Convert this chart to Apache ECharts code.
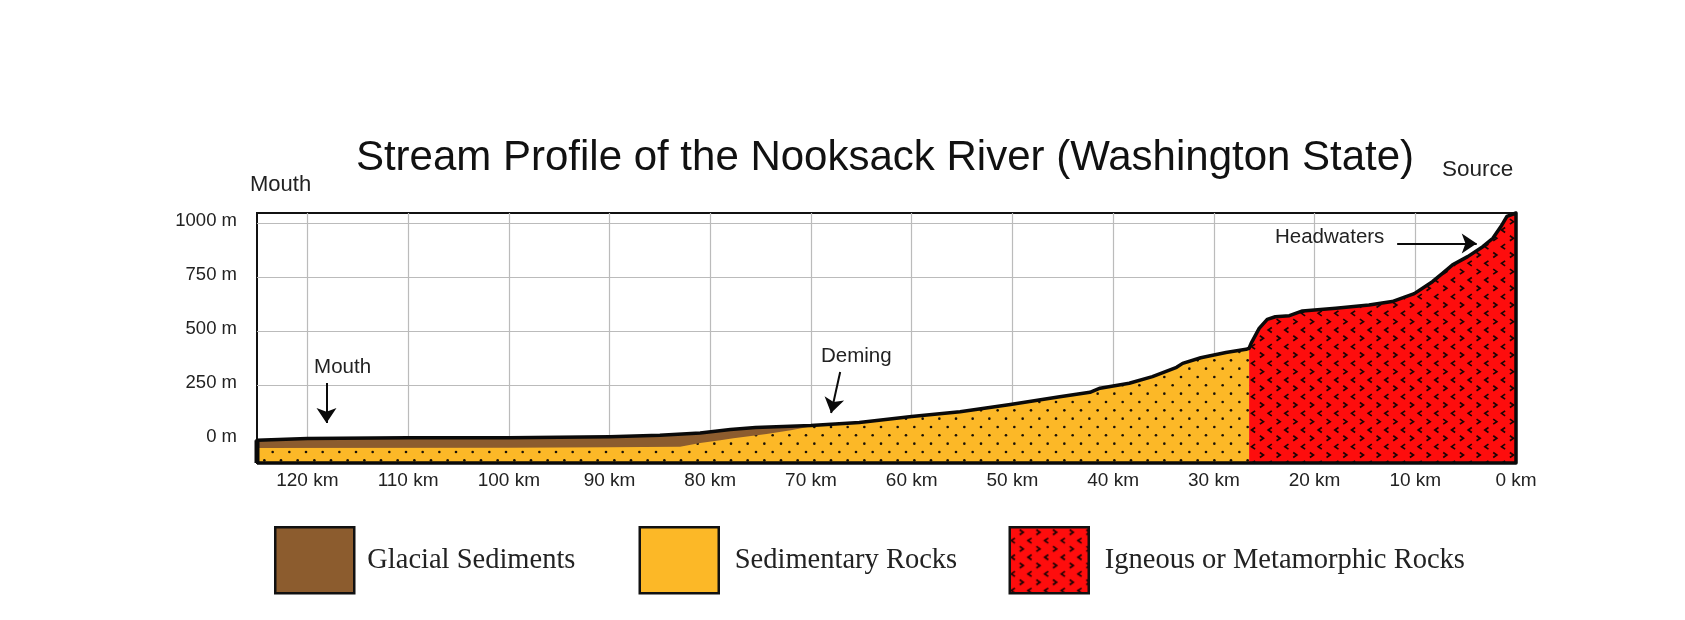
<!DOCTYPE html>
<html>
<head>
<meta charset="utf-8">
<title>Stream Profile of the Nooksack River</title>
<script src="https://cdn.jsdelivr.net/npm/echarts@6/dist/echarts.min.js"></script>
<style>
  html, body { margin: 0; background: #fff; }
  #chart { width: 1685px; height: 620px; }
</style>
</head>
<body>
<div id="chart"></div>
<script>
// river surface: distance from source (km) and elevation (m)
const profileKm = [125, 120, 110, 100, 90, 85, 81, 78, 75.5, 70, 65.2, 60, 55.2, 50.2, 45.3, 42.3, 41.3, 38.4, 36.1, 33.7, 33.1, 31.3, 28.8, 26.8, 26.5, 26.3, 25.5, 24.7, 23.9, 22.5, 21.2, 17.9, 14.6, 12.3, 10.1, 8.3, 7.3, 6.3, 4.8, 3.3, 2.3, 1.5, 0.9, 0];
const profileM = [-6, 2, 6, 6, 10, 17, 28, 44, 53, 62, 76, 104, 126, 160, 196, 216, 235, 258, 289, 332, 350, 376, 400, 415, 420, 443, 512, 554, 566, 571, 593, 605, 620, 636, 673, 728, 767, 806, 844, 890, 929, 983, 1030, 1046];

// bottom of the glacial sediments
const contactKm = [125, 100, 90, 83, 81, 79, 77.7, 74.4, 72, 69.8];
const contactM = [-42, -40, -38, -36, -18, -6, 4, 23, 41, 60];

// sedimentary rocks end here, igneous rocks start
const rockBoundaryKm = 26.5;
const glacialEndKm = 69.8;

const xMin = 0;
const xMax = 125;
const yMin = -111;
const yMax = 1046;
const kmTicks = [0, 10, 20, 30, 40, 50, 60, 70, 80, 90, 100, 110, 120];
const elevationTicks = [0, 250, 500, 750, 1000];

const legendNames = ['Glacial Sediments', 'Sedimentary Rocks', 'Igneous or Metamorphic Rocks'];

const arrowFrom = [[118.1, 259], [67.1, 310], [11.8, 905]];
const arrowTo = [[118.1, 74], [68.0, 120], [3.9, 905]];
const noteNames = ['Mouth', 'Deming', 'Headwaters'];
const notePoints = [[116.5, 333], [65.5, 384], [18.5, 935]];

const BROWN = '#8c5c2e';
const YELLOW = '#fcb827';
const RED = '#fe0d0d';

const pairs = (xs, ys) => xs.map((x, i) => [x, ys[i]]);
const profile = pairs(profileKm, profileM);

function dotTile () {
  const c = document.createElement('canvas');
  c.width = c.height = 50;
  const g = c.getContext('2d');
  g.fillStyle = YELLOW;
  g.fillRect(0, 0, 50, 50);
  g.fillStyle = '#1a1208';
  for (let row = 0; row < 6; row++) {
    for (let col = 0; col < 3; col++) {
      const x = 6 + (row % 2) * 8.33 + col * 16.67;
      const y = 2 + row * 8.33;
      g.beginPath();
      g.arc(x % 50, y % 50, 1.3, 0, Math.PI * 2);
      g.fill();
    }
  }
  return c;
}

function chevronTile () {
  const c = document.createElement('canvas');
  c.width = c.height = 50;
  const g = c.getContext('2d');
  g.fillStyle = RED;
  g.fillRect(0, 0, 50, 50);
  g.strokeStyle = '#1a0505';
  g.lineWidth = 1.7;
  for (let row = 0; row < 6; row++) {
    const right = row % 2 === 0;
    for (let col = 0; col < 3; col++) {
      const x = (right ? 11.67 : 3.33) + col * 16.67;
      const y = 5 + row * 8.33;
      const d = right ? 1 : -1;
      g.beginPath();
      g.moveTo(x - 1.8 * d, y - 2.5);
      g.lineTo(x + 1.8 * d, y);
      g.lineTo(x - 1.8 * d, y + 2.5);
      g.stroke();
    }
  }
  return c;
}

const dotFill = { image: dotTile(), repeat: 'repeat' };
const chevronFill = { image: chevronTile(), repeat: 'repeat' };

function rockLayer (name, data, fill) {
  return {
    name,
    type: 'line',
    data,
    symbol: 'none',
    itemStyle: { color: fill },
    lineStyle: { width: 0 },
    areaStyle: { origin: 'start', color: fill, opacity: 1 },
    silent: true
  };
}

function legendItem (left, index, fill, textGap) {
  return {
    left,
    top: 526,
    padding: 0,
    itemWidth: 79,
    itemHeight: 66,
    icon: 'rect',
    selectedMode: false,
    textStyle: {
      fontFamily: 'Liberation Serif',
      fontSize: 28.5,
      color: '#222',
      padding: [0, 0, 0, textGap]
    },
    data: [{ name: legendNames[index], itemStyle: { color: fill, borderColor: '#111', borderWidth: 2.5 } }]
  };
}

const option = {
  animation: false,
  backgroundColor: '#fff',
  title: [
    { text: 'Stream Profile of the Nooksack River (Washington State)', left: 880, top: 132, textAlign: 'center',
      textStyle: { fontFamily: 'Liberation Sans', fontSize: 42, fontWeight: 'normal', color: '#111' } },
    { text: 'Mouth', left: 245, top: 169,
      textStyle: { fontFamily: 'Liberation Sans', fontSize: 22, fontWeight: 'normal', color: '#222' } },
    { text: 'Source', left: 1437, top: 153,
      textStyle: { fontFamily: 'Liberation Sans', fontSize: 22.5, fontWeight: 'normal', color: '#222' } }
  ],
  grid: {
    left: 257,
    top: 213,
    width: 1259,
    height: 250,
    show: true,
    backgroundColor: '#fff',
    borderColor: '#111',
    borderWidth: 2
  },
  xAxis: {
    type: 'value',
    inverse: true,
    min: xMin,
    max: xMax,
    axisLine: { show: false },
    axisTick: { show: false, customValues: kmTicks },
    axisLabel: {
      customValues: kmTicks,
      margin: 8,
      formatter: '{value} km',
      fontFamily: 'Liberation Sans',
      fontSize: 19,
      color: '#222'
    },
    splitLine: { show: true, lineStyle: { color: '#bbb', width: 1.2 } }
  },
  yAxis: {
    type: 'value',
    min: yMin,
    max: yMax,
    axisLine: { show: false },
    axisTick: { show: true, length: 3, customValues: elevationTicks, lineStyle: { color: '#bbb', width: 1.2 } },
    axisLabel: {
      customValues: elevationTicks,
      margin: 20,
      verticalAlign: 'bottom',
      lineHeight: 5,
      formatter: v => v + ' m',
      fontFamily: 'Liberation Sans',
      fontSize: 18.5,
      color: '#222'
    },
    splitLine: { show: true, lineStyle: { color: '#bbb', width: 1.2 } }
  },
  legend: [
    legendItem(274, 0, BROWN, 8),
    legendItem(638.5, 1, YELLOW, 11),
    legendItem(1008.5, 2, chevronFill, 11)
  ],
  series: [
    rockLayer(legendNames[0], profile.filter(p => p[0] >= glacialEndKm), BROWN),
    rockLayer(
      legendNames[1],
      pairs(contactKm, contactM).concat(profile.filter(p => p[0] < glacialEndKm && p[0] >= rockBoundaryKm)),
      dotFill
    ),
    rockLayer(legendNames[2], profile.filter(p => p[0] <= rockBoundaryKm), chevronFill),
    {
      // black outline around the whole section
      type: 'line',
      data: [[xMax, yMin]].concat(profile, [[xMin, yMin], [xMax, yMin]]),
      symbol: 'none',
      clip: false,
      silent: true,
      lineStyle: { color: '#0a0a0a', width: 3.5, join: 'round' }
    },
    {
      // the section's left edge is drawn heavier
      type: 'line',
      data: [[xMax, yMin], [xMax, profileM[0]]],
      symbol: 'none',
      clip: false,
      silent: true,
      lineStyle: { color: '#0a0a0a', width: 5 }
    },
    {
      type: 'scatter',
      symbolSize: 0,
      silent: true,
      itemStyle: { opacity: 1 },
      data: noteNames.map((name, i) => ({ name, value: notePoints[i] })),
      label: {
        show: true,
        position: 'inside',
        formatter: '{b}',
        fontFamily: 'Liberation Sans',
        fontSize: 20.5,
        color: '#222'
      },
      markLine: {
        silent: true,
        symbol: ['none', 'arrow'],
        symbolSize: 15,
        label: { show: false },
        lineStyle: { color: '#0a0a0a', width: 2, type: 'solid' },
        data: arrowFrom.map((from, i) => [{ coord: from }, { coord: arrowTo[i] }])
      }
    }
  ]
};

const chart = echarts.init(document.getElementById('chart'));
chart.setOption(option);
</script>
</body>
</html>
